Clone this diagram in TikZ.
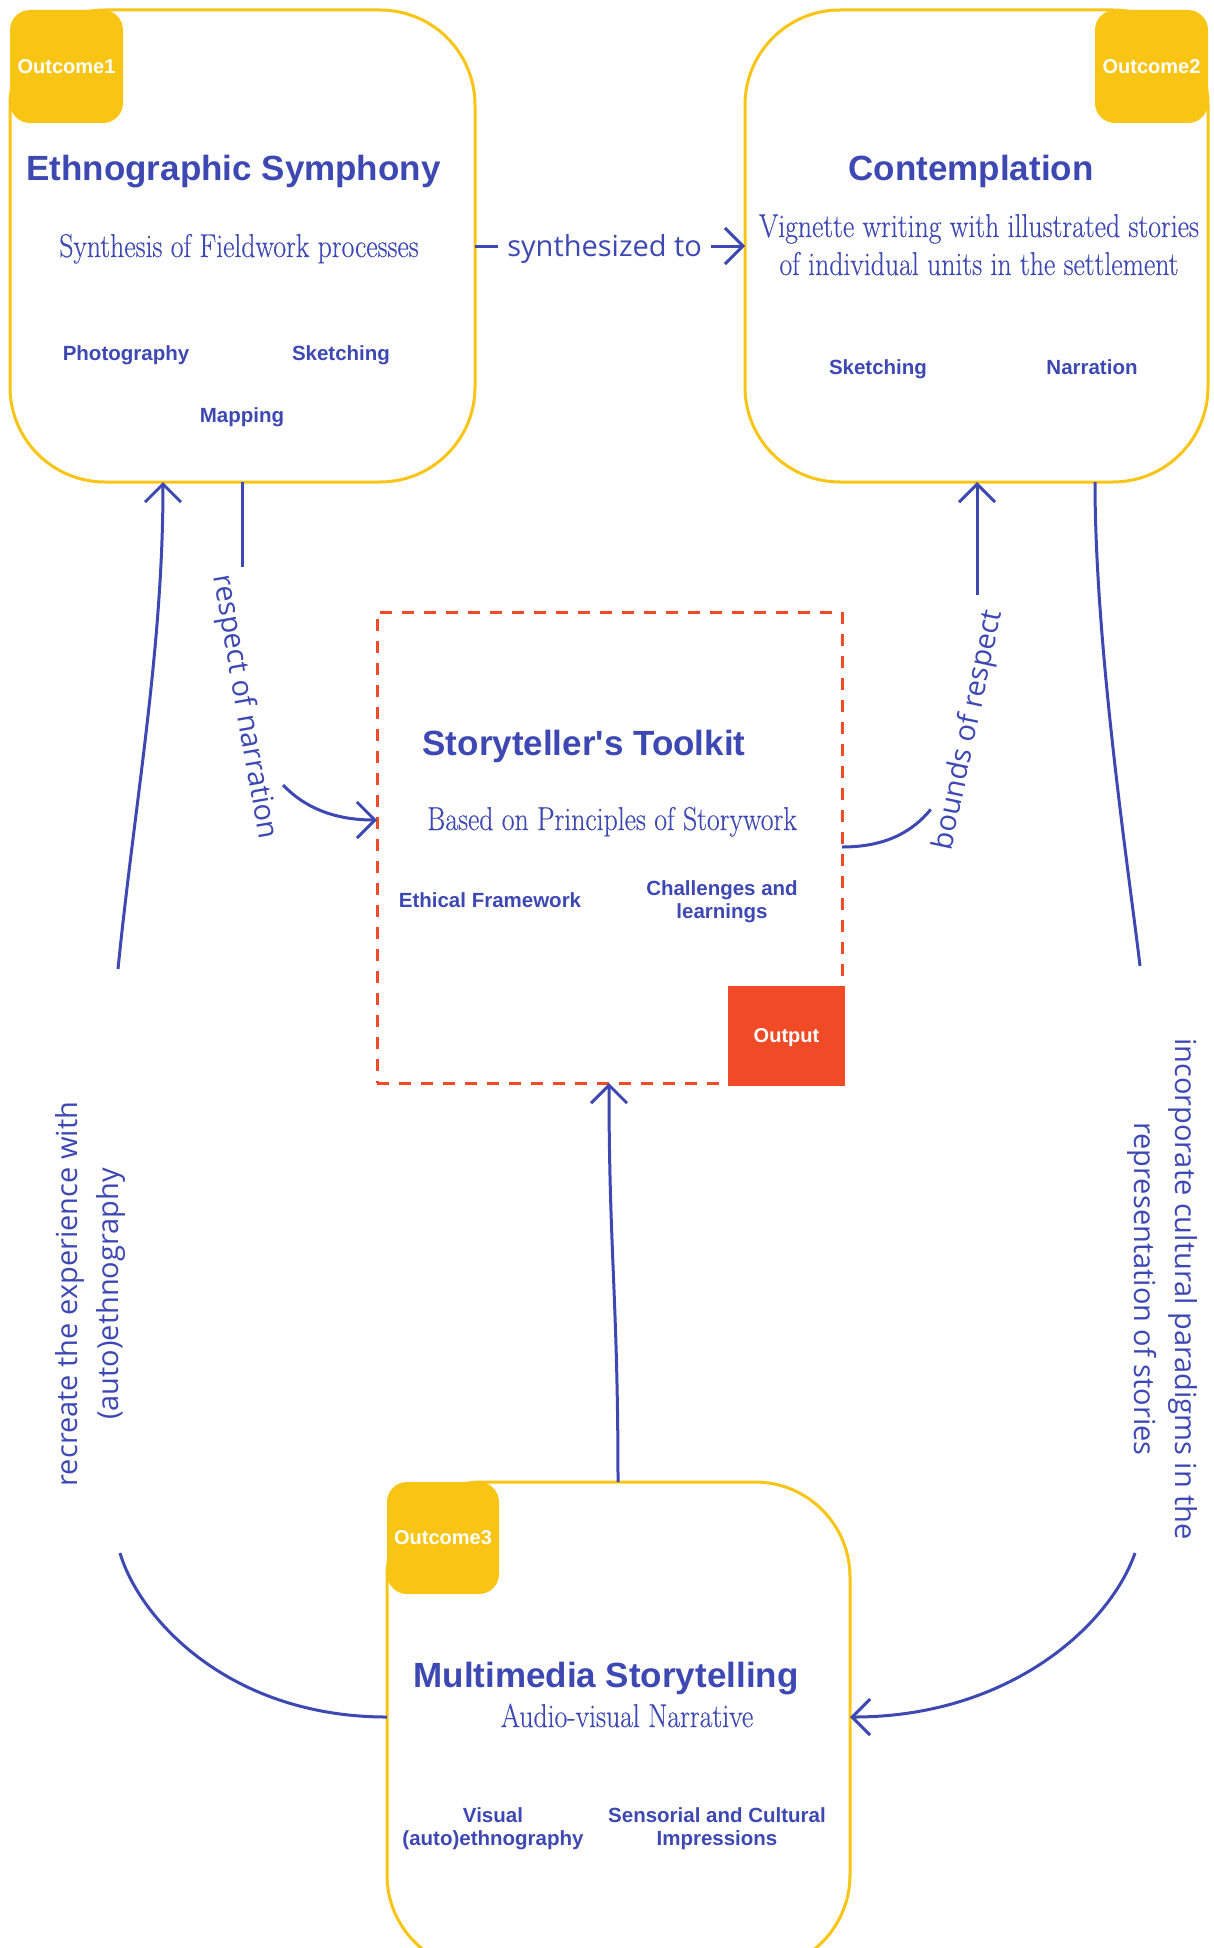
\documentclass[tikz,border=0pt]{standalone}
\usepackage{fontspec}
\usetikzlibrary{arrows.meta}

\newfontfamily\sansface{Liberation Sans}
\newfontfamily\labelface{Open Sans}
\newfontfamily\serifface[FakeStretch=0.84,FakeBold=0.3]{Latin Modern Roman}

\newcommand\ttlfnt{\sansface\bfseries\fontsize{35}{42}\selectfont}
\newcommand\itmfnt{\sansface\bfseries\fontsize{20.5}{23}\selectfont}
\newcommand\tagfnt{\sansface\bfseries\fontsize{20}{24}\selectfont}
\newcommand\subfnt{\serifface\fontsize{33}{38}\selectfont}
\newcommand\lblfnt{\labelface\fontsize{29}{41}\selectfont}

\definecolor{blu}{RGB}{62,72,178}
\definecolor{ylw}{RGB}{248,197,20}
\definecolor{redc}{RGB}{240,74,38}

\begin{document}
\begin{tikzpicture}[x=1pt,y=-1pt,
  card/.style={draw=ylw, line width=3pt, rounded corners=95pt, inner sep=0pt, outer sep=0pt},
  tagbox/.style={fill=ylw, rounded corners=20pt, minimum width=113pt, minimum height=113pt,
    inner sep=0pt, outer sep=0pt, text=white, font=\tagfnt},
  ttl/.style={text=blu, font=\ttlfnt, anchor=base, inner sep=0pt},
  subt/.style={text=blu, font=\subfnt, anchor=base, inner sep=0pt, align=center},
  itm/.style={text=blu, font=\itmfnt, anchor=base, inner sep=0pt, align=center},
  lbl/.style={text=blu, font=\lblfnt, inner sep=0pt, align=center},
  conn/.style={draw=blu, line width=3pt},
  tipped/.style={-{Straight Barb[length=18pt,width=36pt]}}
]
\useasboundingbox (0,0) rectangle (1213,1948);
\fill[white] (0,0) rectangle (1213,1948);
\clip (0,0) rectangle (1213,1948);

% ---- Outcome 1: Ethnographic Symphony
\node[card, minimum width=465pt, minimum height=472pt] (es) at (242.5,246) {};
\node[tagbox] (tag1) at (66.5,66.5) {Outcome1};
\node[ttl] (esT) at (233.5,180) {Ethnographic Symphony};
\node[subt] (esS) at (239,257) {Synthesis of Fieldwork processes};
\node[itm] (esP) at (126,360) {Photography};
\node[itm] (esK) at (341,360) {Sketching};
\node[itm] (esM) at (242,422) {Mapping};

% ---- Outcome 2: Contemplation
\node[card, minimum width=463pt, minimum height=472pt] (ct) at (976.5,246) {};
\node[tagbox] (tag2) at (1151.5,66.5) {Outcome2};
\node[ttl] (ctT) at (971,180) {Contemplation};
% multi-line texts: the base anchor sits on the last line
\node[subt] (ctS) at (979,275) {Vignette writing with illustrated stories\\of individual units in the settlement};
\node[itm] (ctK) at (878,374) {Sketching};
\node[itm] (ctN) at (1092,374) {Narration};

% ---- Storyteller's Toolkit
\node[draw=redc, line width=3pt, dash pattern=on 12pt off 10pt, inner sep=0pt, outer sep=0pt,
      minimum width=465pt, minimum height=471pt] (tk) at (609.5,847.5) {};
\node[fill=redc, inner sep=0pt, outer sep=0pt, minimum width=117pt, minimum height=100pt,
      text=white, font=\tagfnt, text depth=0pt] (out) at (786.5,1035.5) {Output};
\node[ttl] (tkT) at (584,755) {Storyteller's Toolkit};
\node[subt] (tkS) at (612,830) {Based on Principles of Storywork};
\node[itm] (tkE) at (490,907) {Ethical Framework};
\node[itm] (tkC) at (722,918) {Challenges and\\learnings};

% ---- Outcome 3: Multimedia Storytelling
\node[card, minimum width=463pt, minimum height=488pt] (mm) at (618.5,1726) {};
\node[tagbox, minimum width=112pt, minimum height=112pt] (tag3) at (443,1538) {Outcome3};
\node[ttl] (mmT) at (606,1687) {Multimedia Storytelling};
\node[subt] (mmS) at (627,1727) {Audio-visual Narrative};
\node[itm] (mmV) at (493,1845) {Visual\\(auto)ethnography};
\node[itm] (mmC) at (717,1845) {Sensorial and Cultural\\Impressions};

% ---- connectors
\draw[conn,tipped] (es) -- node[lbl, fill=white, inner xsep=9pt, inner ysep=4pt, pos=0.48, yshift=-3pt] (syn) {synthesized to} (ct);

\coordinate (rnA) at (242,567);
\coordinate (rnB) at (283,785);
\draw[conn] (242,0 |- es.south) -- (rnA);
\node[lbl, rotate=-80] (rn) at (244,707) {respect of narration};
\draw[conn,tipped] (rnB) .. controls (305,808) and (335,820) .. (tk.west |- 0,820);

\coordinate (brA) at (930.7,809.4);
\coordinate (brB) at (977,595);
\draw[conn] (tk.east |- 0,847) .. controls (882.5,847) and (910.9,833.8) .. (brA);
\node[lbl, rotate=78] (br) at (969,730) {bounds of respect};
\draw[conn,tipped] (brB) -- (977,0 |- ct.south);

\coordinate (icA) at (1140,966);
\coordinate (icB) at (1135,1553);
\draw[conn] (1095,0 |- ct.south) .. controls (1095,650) and (1130,880) .. (icA);
\node[lbl, rotate=-90] (ic) at (1163,1289) {incorporate cultural paradigms in the\\representation of stories};
\draw[conn,tipped] (icB) .. controls (1110,1625) and (1010,1717) .. (mm.east |- 0,1717);

\coordinate (rxA) at (120,1553);
\coordinate (rxB) at (118,969);
\draw[conn] (mm.west |- 0,1717) .. controls (230,1717) and (140,1620) .. (rxA);
\node[lbl, rotate=90] (rx) at (90,1294) {recreate the experience with\\(auto)ethnography};
\draw[conn,tipped] (rxB) .. controls (135,800) and (163,650) .. (163,0 |- es.south);

\draw[conn,tipped] (618,0 |- mm.north) .. controls (618,1300) and (609,1250) .. (609,0 |- tk.south);
\end{tikzpicture}
\end{document}
